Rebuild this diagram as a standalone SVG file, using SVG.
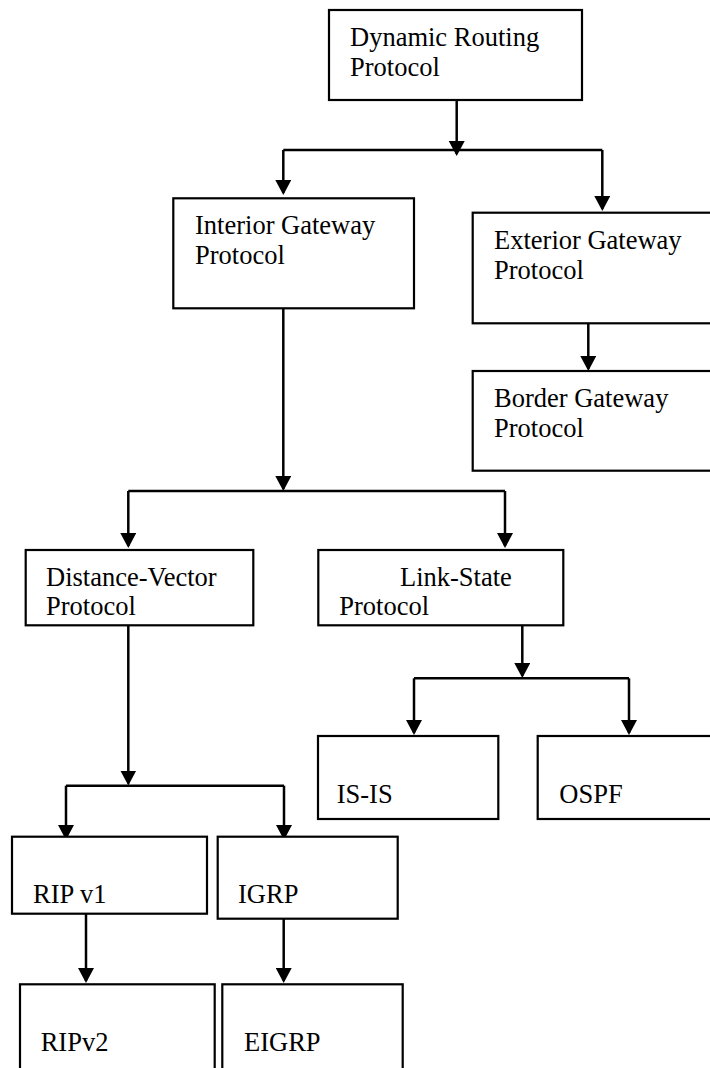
<svg xmlns="http://www.w3.org/2000/svg" width="710" height="1068" viewBox="0 0 710 1068">
  <style>
    .box { fill: #ffffff; stroke: #000000; stroke-width: 2.2; }
    .lbl { font-family: "Liberation Serif", "Times New Roman", serif; font-size: 26.5px; fill: #000000; }
    .wire { fill: none; stroke: #000000; stroke-width: 2.5; }
  </style>
  <defs>
    <marker id="arrow" viewBox="0 0 15 16" refX="13" refY="8" markerWidth="15" markerHeight="16" markerUnits="userSpaceOnUse" orient="auto">
      <path d="M0,0 L15,8 L0,16 z" fill="#000000"/>
    </marker>
  </defs>
  <rect width="710" height="1068" fill="#ffffff"/>

  <!-- connectors -->
  <g id="connectors">
    <path class="wire" d="M283.3,150 H602.3"/>
    <path class="wire" d="M456.7,101 V154" marker-end="url(#arrow)"/>
    <path class="wire" d="M283.3,150 V193" marker-end="url(#arrow)"/>
    <path class="wire" d="M602.3,150 V209" marker-end="url(#arrow)"/>
    <path class="wire" d="M588.3,324 V369" marker-end="url(#arrow)"/>

    <path class="wire" d="M128.3,491 H505"/>
    <path class="wire" d="M283.3,309 V489" marker-end="url(#arrow)"/>
    <path class="wire" d="M128.3,491 V546" marker-end="url(#arrow)"/>
    <path class="wire" d="M505,491 V546" marker-end="url(#arrow)"/>

    <path class="wire" d="M414,678.3 H629"/>
    <path class="wire" d="M522.3,626 V676" marker-end="url(#arrow)"/>
    <path class="wire" d="M414,678.3 V733" marker-end="url(#arrow)"/>
    <path class="wire" d="M629,678.3 V733" marker-end="url(#arrow)"/>

    <path class="wire" d="M66,785.7 H284"/>
    <path class="wire" d="M128.3,626 V783.5" marker-end="url(#arrow)"/>
    <path class="wire" d="M66,785.7 V838" marker-end="url(#arrow)"/>
    <path class="wire" d="M284,785.7 V838" marker-end="url(#arrow)"/>

    <path class="wire" d="M86,914 V981" marker-end="url(#arrow)"/>
    <path class="wire" d="M283.7,919 V981" marker-end="url(#arrow)"/>
  </g>

  <!-- nodes -->
  <g id="dynamic">
    <rect class="box" x="329" y="10" width="253" height="90"/>
    <text class="lbl" x="350" y="46">Dynamic Routing</text>
    <text class="lbl" x="350" y="76">Protocol</text>
  </g>
  <g id="interior">
    <rect class="box" x="173.3" y="198.3" width="240.7" height="110"/>
    <text class="lbl" x="195" y="234">Interior Gateway</text>
    <text class="lbl" x="195" y="264">Protocol</text>
  </g>
  <g id="exterior">
    <rect class="box" x="472.7" y="212.7" width="250" height="110.6"/>
    <text class="lbl" x="494" y="249">Exterior Gateway</text>
    <text class="lbl" x="494" y="279">Protocol</text>
  </g>
  <g id="border">
    <rect class="box" x="472.7" y="371" width="250" height="99.7"/>
    <text class="lbl" x="494" y="407">Border Gateway</text>
    <text class="lbl" x="494" y="437">Protocol</text>
  </g>
  <g id="distance-vector">
    <rect class="box" x="25.7" y="550" width="227.6" height="75.3"/>
    <text class="lbl" x="46" y="586">Distance-Vector</text>
    <text class="lbl" x="46" y="615">Protocol</text>
  </g>
  <g id="link-state">
    <rect class="box" x="318.3" y="550" width="245" height="75.3"/>
    <text class="lbl" x="400" y="586">Link-State</text>
    <text class="lbl" x="339.3" y="615">Protocol</text>
  </g>
  <g id="is-is">
    <rect class="box" x="318" y="736" width="180.3" height="83"/>
    <text class="lbl" x="336.7" y="803">IS-IS</text>
  </g>
  <g id="ospf">
    <rect class="box" x="537.7" y="736" width="190" height="83"/>
    <text class="lbl" x="559.3" y="803">OSPF</text>
  </g>
  <g id="rip-v1">
    <rect class="box" x="12" y="836.7" width="195" height="77"/>
    <text class="lbl" x="33" y="903">RIP v1</text>
  </g>
  <g id="igrp">
    <rect class="box" x="217.7" y="836.7" width="180" height="82"/>
    <text class="lbl" x="238" y="903">IGRP</text>
  </g>
  <g id="ripv2">
    <rect class="box" x="20" y="984.3" width="194.7" height="100"/>
    <text class="lbl" x="40.7" y="1051">RIPv2</text>
  </g>
  <g id="eigrp">
    <rect class="box" x="222.3" y="984.3" width="180.4" height="100"/>
    <text class="lbl" x="244" y="1051">EIGRP</text>
  </g>
</svg>
